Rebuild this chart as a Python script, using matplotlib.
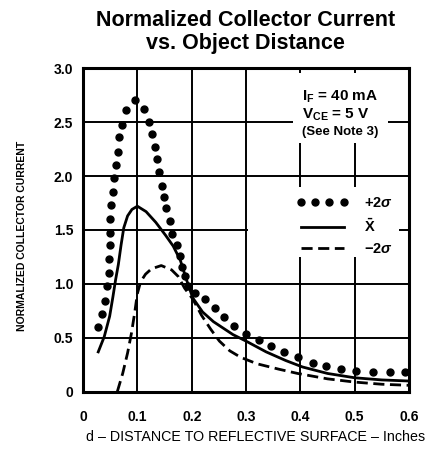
import matplotlib
matplotlib.use("Agg")
import matplotlib.pyplot as plt
from matplotlib.patches import Rectangle

plt.rcParams.update({
    "font.family": ["Liberation Sans", "DejaVu Sans"],
    "font.weight": "bold",
    "mathtext.fontset": "custom",
    "mathtext.rm": "Liberation Sans:bold",
    "mathtext.it": "Liberation Sans:italic:bold",
    "mathtext.bf": "Liberation Sans:bold",
})

# ---- data ----
# +2 sigma (dotted curve, one entry per printed dot)
plus_x = [0.028, 0.035, 0.040, 0.045, 0.047, 0.048, 0.049, 0.050, 0.050, 0.052,
          0.055, 0.057, 0.060, 0.064, 0.067, 0.071, 0.079, 0.096, 0.112, 0.121,
          0.127, 0.132, 0.136, 0.140, 0.145, 0.149, 0.153, 0.160, 0.164, 0.173,
          0.179, 0.182, 0.188, 0.194, 0.206, 0.224, 0.242, 0.260, 0.277, 0.300,
          0.323, 0.346, 0.369, 0.396, 0.423, 0.447, 0.475, 0.503, 0.534, 0.565,
          0.592]
plus_y = [0.60, 0.72, 0.84, 0.98, 1.10, 1.23, 1.36, 1.47, 1.60, 1.73,
          1.85, 1.98, 2.10, 2.22, 2.36, 2.47, 2.61, 2.70, 2.62, 2.50,
          2.39, 2.27, 2.16, 2.04, 1.91, 1.81, 1.70, 1.58, 1.46, 1.36,
          1.26, 1.16, 1.07, 0.98, 0.92, 0.86, 0.78, 0.69, 0.61, 0.54,
          0.48, 0.42, 0.37, 0.32, 0.27, 0.24, 0.21, 0.19, 0.18, 0.18,
          0.18]

# mean (solid curve)
mean_x = [0.028, 0.039, 0.049, 0.055, 0.060, 0.065, 0.070, 0.075, 0.082, 0.090,
          0.100, 0.116, 0.134, 0.152, 0.166, 0.179, 0.191, 0.202, 0.220, 0.240,
          0.276, 0.300, 0.337, 0.373, 0.404, 0.450, 0.500, 0.550, 0.600]
mean_y = [0.37, 0.51, 0.70, 0.88, 1.04, 1.18, 1.36, 1.52, 1.63, 1.69,
          1.72, 1.67, 1.57, 1.45, 1.35, 1.22, 1.03, 0.87, 0.74, 0.65,
          0.53, 0.47, 0.37, 0.29, 0.23, 0.17, 0.13, 0.11, 0.10]

# -2 sigma (dashed curve)
minus_x = [0.063, 0.073, 0.082, 0.089, 0.095, 0.100, 0.106, 0.115, 0.126, 0.144,
           0.163, 0.175, 0.187, 0.202, 0.218, 0.235, 0.251, 0.270, 0.290, 0.320,
           0.360, 0.395, 0.450, 0.500, 0.550, 0.600]
minus_y = [0.00, 0.17, 0.36, 0.54, 0.73, 0.91, 1.02, 1.09, 1.14, 1.17,
           1.13, 1.07, 0.96, 0.86, 0.71, 0.58, 0.47, 0.38, 0.32, 0.26,
           0.21, 0.17, 0.12, 0.09, 0.07, 0.06]

x_ticks = [0, 0.1, 0.2, 0.3, 0.4, 0.5, 0.6]
x_labels = ["0", "0.1", "0.2", "0.3", "0.4", "0.5", "0.6"]
y_ticks = [0, 0.5, 1.0, 1.5, 2.0, 2.5, 3.0]
y_labels = ["0", "0.5", "1.0", "1.5", "2.0", "2.5", "3.0"]

fig = plt.figure(figsize=(4.37, 4.54), dpi=100)
ax = fig.add_axes([0.190, 0.137, 0.746, 0.713])

ax.plot(plus_x, plus_y, linestyle="none", marker="o", ms=5, color="black",
        label=r"+2$\sigma$", zorder=3)
ax.plot(mean_x, mean_y, "-", lw=2, color="black",
        label=r"$\bar{\mathregular{X}}$", zorder=3)
ax.plot(minus_x, minus_y, lw=2, color="black", dashes=(4, 2),
        label=r"$-2\sigma$", zorder=3)

ax.set_xlim(0, 0.6)
ax.set_ylim(0, 3.0)
ax.set_xticks(x_ticks)
ax.set_xticklabels(x_labels)
ax.set_yticks(y_ticks)
ax.set_yticklabels(y_labels)
ax.tick_params(axis="both", length=0, labelsize=10)
ax.tick_params(axis="x", pad=13)
ax.tick_params(axis="y", pad=7)

ax.set_axisbelow(True)
ax.grid(True, color="black", lw=1.4)
for s in ax.spines.values():
    s.set_linewidth(2.2)

# white patches that break the grid behind the notes and the key
ax.add_patch(Rectangle((0.644, 0.769), 0.292, 0.216, transform=ax.transAxes,
                       facecolor="white", edgecolor="none", zorder=1))
ax.add_patch(Rectangle((0.505, 0.417), 0.465, 0.216, transform=ax.transAxes,
                       facecolor="white", edgecolor="none", zorder=1))

ax.text(0.672, 0.910, r"I$_\mathregular{F}$ = 40 mA", transform=ax.transAxes,
        fontsize=11, va="center", ha="left")
ax.text(0.672, 0.855, r"V$_\mathregular{CE}$ = 5 V", transform=ax.transAxes,
        fontsize=11, va="center", ha="left")
ax.text(0.672, 0.802, "(See Note 3)", transform=ax.transAxes,
        fontsize=9.5, va="center", ha="left")

ax.legend(loc="center left", bbox_to_anchor=(0.656, 0.512), frameon=False,
          numpoints=4, handlelength=3.5, handletextpad=1.1, labelspacing=0.5,
          borderpad=0, borderaxespad=0, fontsize=10.5)

fig.text(0.561, 0.978, "Normalized Collector Current\nvs. Object Distance",
         ha="center", va="top", fontsize=15.5, fontweight="bold", linespacing=1.1)

fig.text(0.050, 0.480, "NORMALIZED COLLECTOR CURRENT", rotation=90,
         ha="center", va="center", fontsize=7.5)

ax.set_xlabel("d \u2013 DISTANCE TO REFLECTIVE SURFACE \u2013 Inches", fontsize=10.3)
ax.xaxis.set_label_coords(0.528, -0.117)

fig.savefig("out.png", dpi=100)
